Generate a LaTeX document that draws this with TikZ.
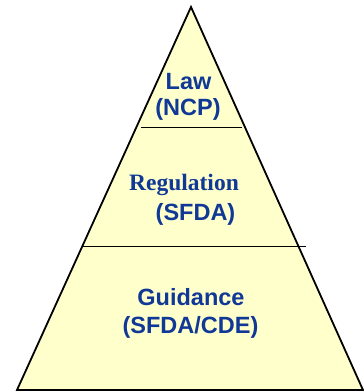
\documentclass[tikz,border=0pt]{standalone}
\usepackage{fontspec}
\setmainfont{Liberation Sans}
\newfontfamily\serifrm{Liberation Serif}
\definecolor{pyrfill}{RGB}{255,255,204}
\definecolor{pyrtext}{RGB}{16,56,150}
\begin{document}
\begin{tikzpicture}[x=1pt,y=-1pt,
  lbl/.style={anchor=base,inner sep=0pt,text=pyrtext,font=\fontsize{23.5}{28}\selectfont\bfseries},
  edge/.style={draw=black,line width=1.8pt,line join=miter}]
\useasboundingbox (0,0) rectangle (364,392);
\coordinate (apex) at (191,7);
\coordinate (bl) at (17,390);
\coordinate (br) at (363,390);
\filldraw[edge,fill=pyrfill] (apex) -- (br) -- (bl) -- cycle;
\coordinate (l1a) at (141,127.5);
\coordinate (l1b) at (242,127.5);
\coordinate (l2a) at (82,246.5);
\coordinate (l2b) at (306,246.5);
\draw[edge] (l1a) -- (l1b);
\draw[edge] (l2a) -- (l2b);
\node[lbl] (law) at (188.5,89) {Law};
\node[lbl] (ncp) at (188,115.5) {(NCP)};
\node[lbl,font=\fontsize{23.5}{28}\selectfont\serifrm\bfseries] (reg) at (184,190) {Regulation};
\node[lbl] (sfda) at (195.5,220) {(SFDA)};
\node[lbl] (guid) at (191,305) {Guidance};
\node[lbl] (cde) at (190.5,333) {(SFDA/CDE)};
\end{tikzpicture}
\end{document}
